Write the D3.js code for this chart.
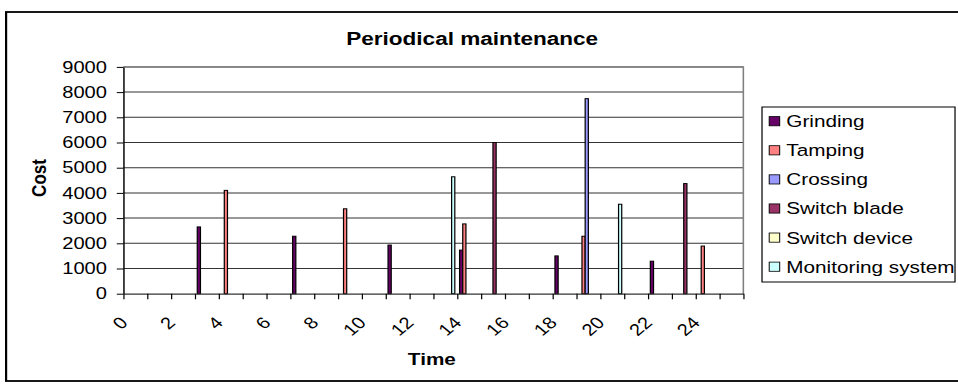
<!DOCTYPE html>
<html>
<head>
<meta charset="utf-8">
<script src="https://cdn.jsdelivr.net/npm/d3@7"></script>
<style>
  html, body { margin: 0; padding: 0; background: #fff; }
  svg { display: block; }
  text { font-family: "Liberation Sans", Arial, sans-serif; fill: #000; }
</style>
</head>
<body>
<div id="chart"></div>
<script>
// Time steps on the category axis
const times = [0, 1, 2, 3, 4, 5, 6, 7, 8, 9, 10, 11, 12, 13, 14, 15, 16, 17, 18, 19, 20, 21, 22, 23, 24, 25];
// Labels shown under the axis (every second time step)
const timeTickLabels = ["0", "2", "4", "6", "8", "10", "12", "14", "16", "18", "20", "22", "24"];

// Cost per time step for each maintenance activity
const grinding      = [0, 0, 0, 2650, 0, 0, 0, 2280, 0, 0, 0, 1930, 0, 0, 1730, 0, 0, 0, 1500, 0, 0, 0, 1290, 0, 0, 0];
const tamping       = [0, 0, 0, 0, 4100, 0, 0, 0, 0, 3370, 0, 0, 0, 0, 2770, 0, 0, 0, 0, 2280, 0, 0, 0, 0, 1890, 0];
const crossing      = [0, 0, 0, 0, 0, 0, 0, 0, 0, 0, 0, 0, 0, 0, 0, 0, 0, 0, 0, 7740, 0, 0, 0, 0, 0, 0];
const switchBlade   = [0, 0, 0, 0, 0, 0, 0, 0, 0, 0, 0, 0, 0, 0, 0, 6000, 0, 0, 0, 0, 0, 0, 0, 4370, 0, 0];
const switchDevice  = [0, 0, 0, 0, 0, 0, 0, 0, 0, 0, 0, 0, 0, 0, 0, 0, 0, 0, 0, 0, 0, 0, 0, 0, 0, 0];
const monitoring    = [0, 0, 0, 0, 0, 0, 0, 0, 0, 0, 0, 0, 0, 4640, 0, 0, 0, 0, 0, 0, 3550, 0, 0, 0, 0, 0];

const seriesNames = ["Grinding", "Tamping", "Crossing", "Switch blade", "Switch device", "Monitoring system"];
const seriesValues = [grinding, tamping, crossing, switchBlade, switchDevice, monitoring];
const seriesColors = ["#660066", "#FF8080", "#9999FF", "#993366", "#FFFFCC", "#CCFFFF"];

const yTicks = [0, 1000, 2000, 3000, 4000, 5000, 6000, 7000, 8000, 9000];

// The drawing is laid out on a narrower canvas and stretched to the page width
const PAGE_W = 958, PAGE_H = 386, STRETCH = 1.22;
const W = PAGE_W / STRETCH;

const svg = d3.select("#chart").append("svg")
  .attr("width", PAGE_W).attr("height", PAGE_H)
  .attr("viewBox", `0 0 ${W} ${PAGE_H}`)
  .attr("preserveAspectRatio", "none");

// chart frame
svg.append("rect")
  .attr("x", 5).attr("y", 12)
  .attr("width", W + 20).attr("height", 369)
  .attr("fill", "#fff").attr("stroke", "#000").attr("stroke-width", 1.8);

const plot = { left: 101.1, right: 609.3, top: 66.9, bottom: 293.7 };

const xEdge = d3.scaleLinear().domain([0, times.length]).range([plot.left, plot.right]);
const xBand = d3.scaleBand().domain(times).range([plot.left, plot.right]).paddingInner(0).paddingOuter(0);
const xSeries = d3.scaleBand().domain(seriesNames).range([0, xBand.bandwidth()])
  .paddingInner(0).paddingOuter(0.75);
const y = d3.scaleLinear().domain([0, 9000]).range([plot.bottom, plot.top]);

// gridlines
svg.append("g").selectAll("line").data(yTicks.filter(d => d > 0)).join("line")
  .attr("x1", plot.left).attr("x2", plot.right)
  .attr("y1", d => y(d)).attr("y2", d => y(d))
  .attr("stroke", "#333").attr("stroke-width", 1);

// plot area border (top and right)
svg.append("path")
  .attr("d", `M${plot.left},${plot.top}H${plot.right}V${plot.bottom}`)
  .attr("fill", "none").attr("stroke", "#808080").attr("stroke-width", 1.3);

// bars
const barData = [];
seriesNames.forEach((name, si) => {
  seriesValues[si].forEach((v, ti) => {
    if (v > 0) barData.push({ name, t: times[ti], v, color: seriesColors[si] });
  });
});
svg.append("g").selectAll("rect").data(barData).join("rect")
  .attr("x", d => xBand(d.t) + xSeries(d.name))
  .attr("width", xSeries.bandwidth())
  .attr("y", d => y(d.v))
  .attr("height", d => y(0) - y(d.v))
  .attr("fill", d => d.color)
  .attr("stroke", "#000").attr("stroke-width", 1);

// y axis
const yAxis = svg.append("g")
  .attr("transform", `translate(${plot.left},0)`)
  .call(d3.axisLeft(y).tickValues(yTicks).tickSize(5.4).tickPadding(8).tickSizeOuter(0).tickFormat(d3.format("d")));
yAxis.select(".domain").attr("stroke", "#000").attr("stroke-width", 1.2);
yAxis.selectAll(".tick line").attr("stroke", "#000");
yAxis.selectAll("text").attr("font-size", 16.5).attr("fill", "#000")
  .style("font-family", '"Liberation Sans", Arial, sans-serif');

// x axis: tick marks on category boundaries
const xAxis = svg.append("g")
  .attr("transform", `translate(0,${plot.bottom})`)
  .call(d3.axisBottom(xEdge).tickValues(d3.range(times.length + 1)).tickSize(5.6).tickSizeOuter(0).tickFormat(""));
xAxis.select(".domain").attr("stroke", "#333").attr("stroke-width", 1.2);
xAxis.selectAll(".tick line").attr("stroke", "#000");

// rotated time labels
svg.append("g").selectAll("text").data(timeTickLabels).join("text")
  .attr("transform", d => `translate(${xEdge(times.indexOf(+d)) + 4.5},${plot.bottom + 30}) rotate(-45)`)
  .attr("text-anchor", "end")
  .attr("font-size", 16.5)
  .text(d => d);

// title
svg.append("text")
  .attr("x", 387).attr("y", 45)
  .attr("text-anchor", "middle")
  .attr("font-size", 18.5).attr("font-weight", "bold")
  .text("Periodical maintenance");

// axis titles
svg.append("text")
  .attr("transform", "translate(37.5,178) rotate(-90)")
  .attr("text-anchor", "middle")
  .attr("font-size", 17).attr("font-weight", "bold")
  .text("Cost");
svg.append("text")
  .attr("x", 354).attr("y", 365)
  .attr("text-anchor", "middle")
  .attr("font-size", 17).attr("font-weight", "bold")
  .text("Time");

// legend
const legend = svg.append("g");
legend.append("rect")
  .attr("x", 624.6).attr("y", 107)
  .attr("width", 158.2).attr("height", 175)
  .attr("fill", "#fff").attr("stroke", "#000").attr("stroke-width", 1);
const rowY = d3.scalePoint().domain(seriesNames).range([121.2, 266.7]);
const rows = legend.selectAll("g.row").data(seriesNames).join("g").attr("class", "row");
rows.append("rect")
  .attr("x", 630.5).attr("y", d => rowY(d) - 4.6)
  .attr("width", 8.6).attr("height", 9.2)
  .attr("fill", (d, i) => seriesColors[i])
  .attr("stroke", "#000").attr("stroke-width", 0.8);
rows.append("text")
  .attr("x", 644.5).attr("y", d => rowY(d) + 6)
  .attr("font-size", 17)
  .text(d => d);
</script>
</body>
</html>
